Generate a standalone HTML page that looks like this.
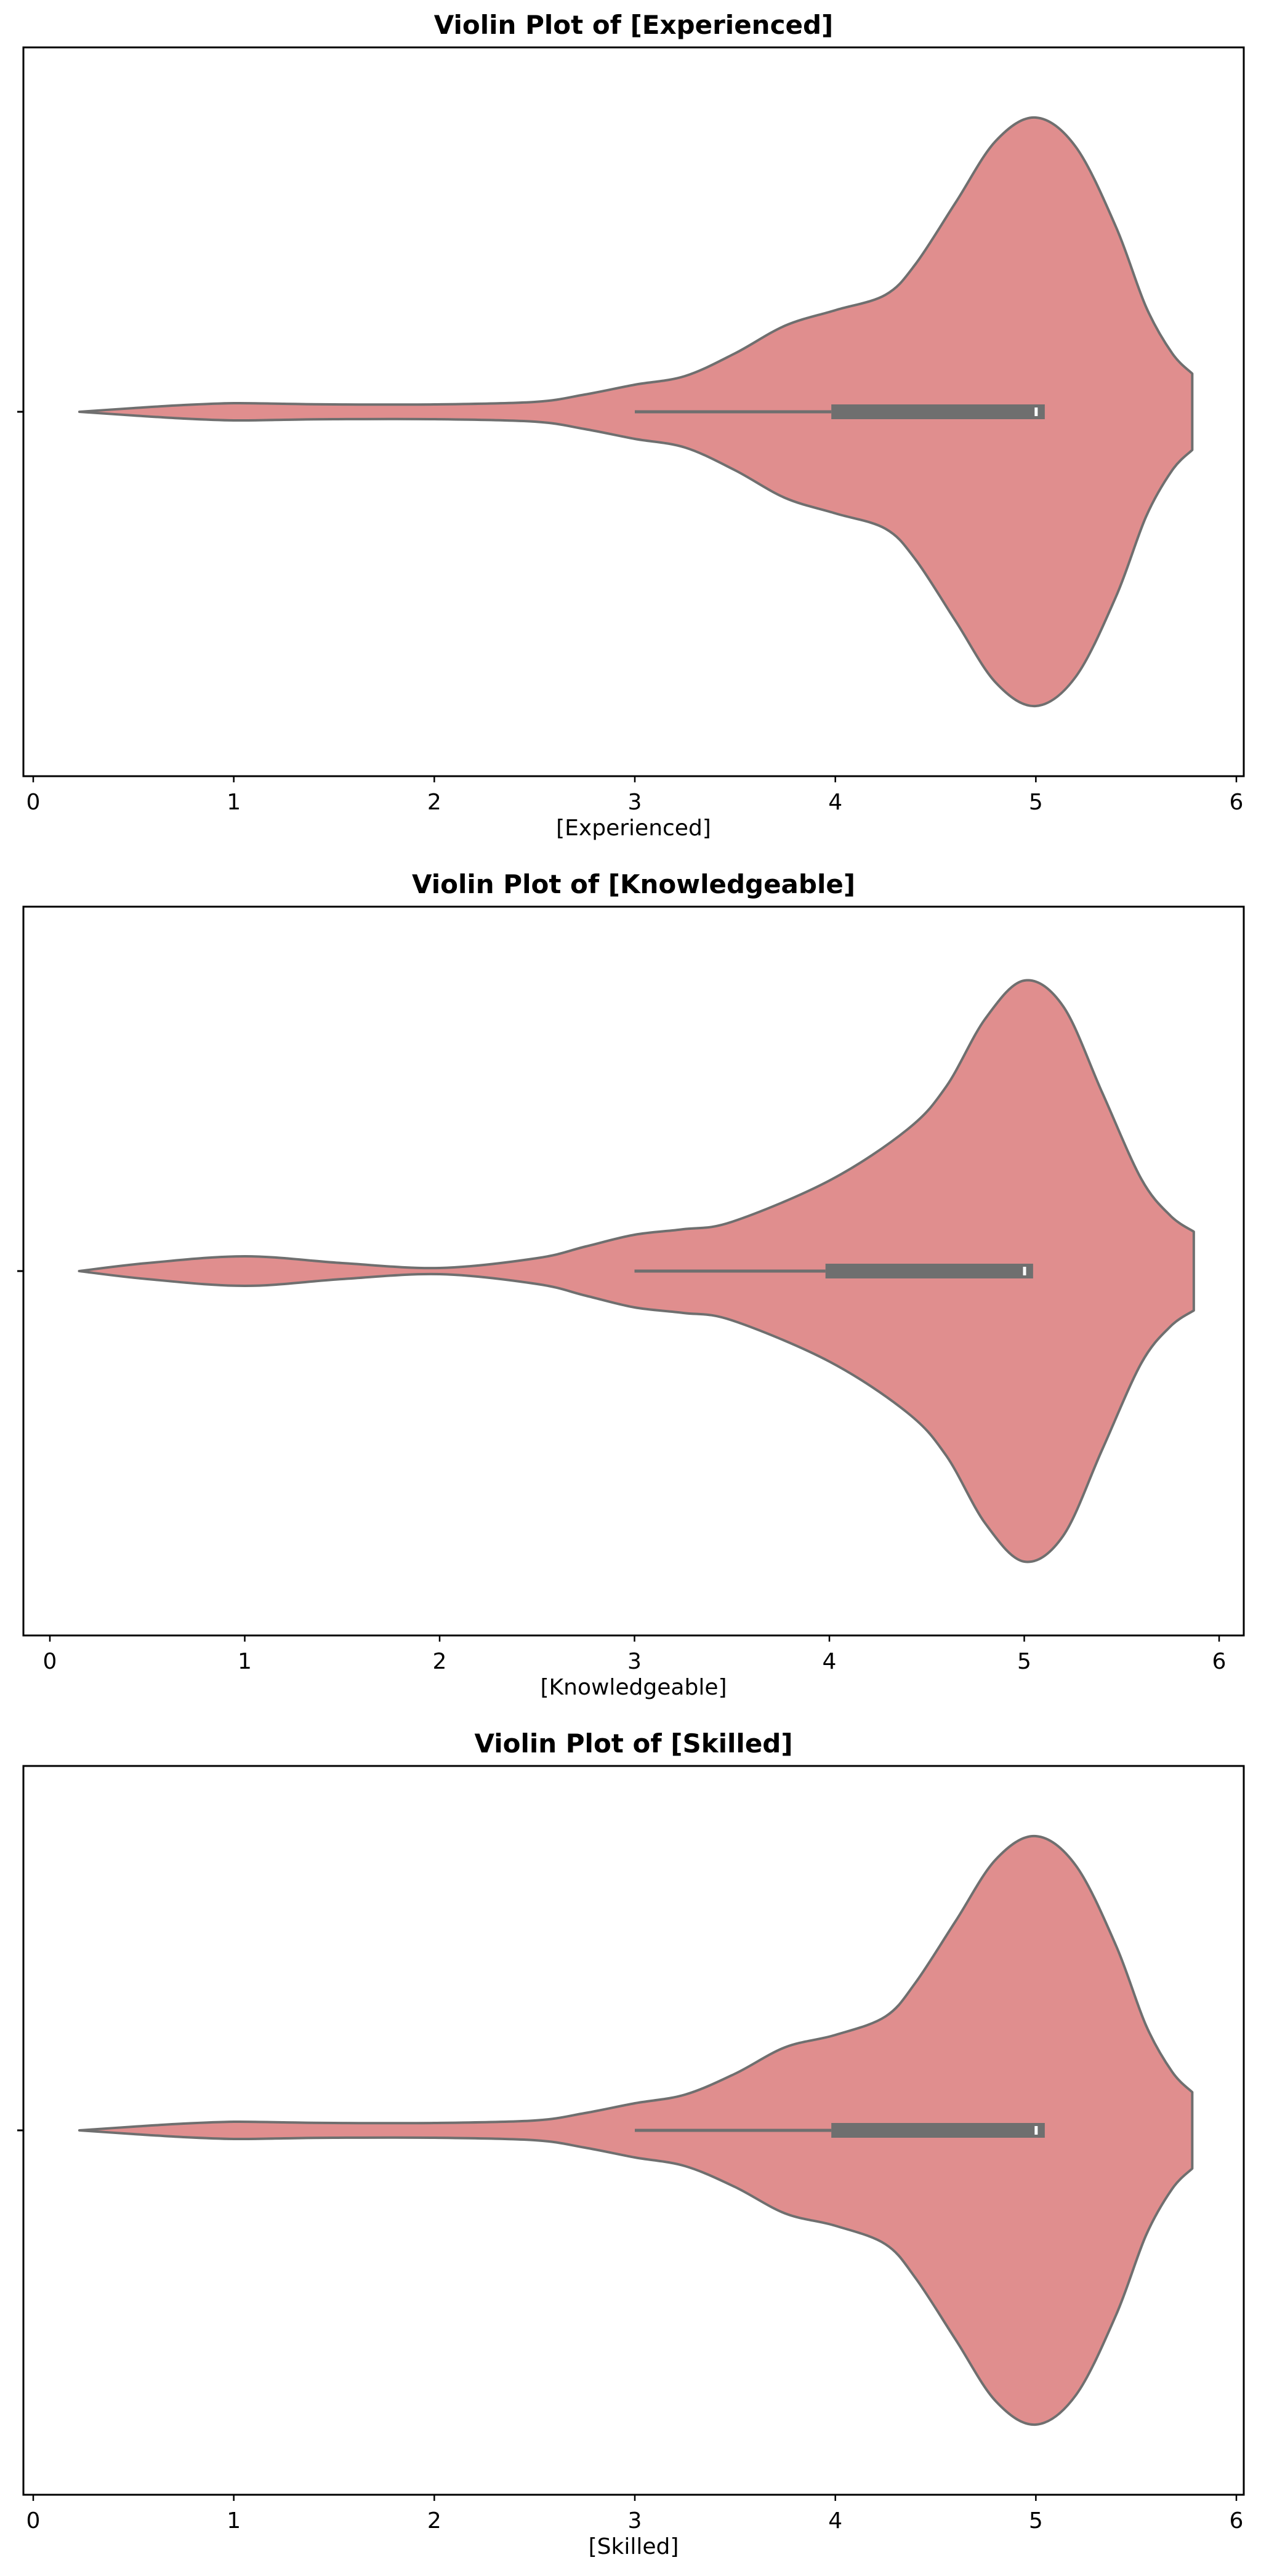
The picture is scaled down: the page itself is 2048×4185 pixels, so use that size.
<!DOCTYPE html>
<html><head><meta charset="utf-8"><style>
html,body{margin:0;padding:0;background:#fff}
svg{display:block}
text{font-family:"DejaVu Sans","Liberation Sans",sans-serif;fill:#000}
</style></head><body>
<svg id="chart" width="2048" height="4185" viewBox="0 0 2048 4185"></svg>
<script>
// Plot 1: Experienced
const p1Xs = [0.23,0.5,0.75,1.0,1.25,1.5,2.0,2.5,2.75,3.0,3.25,3.5,3.75,4.0,4.25,4.4,4.6,4.8,5.0,5.2,5.4,5.55,5.68,5.78];
const p1Dens = [0,6,11,14,13,12,12,16,28,44,58,95,140,165,190,240,340,440,478,430,300,170,95,62];
const p1Stats = [3,3.98,5,5.02,5]; // whiskerLo, q1, median, q3, whiskerHi
// Plot 2: Knowledgeable
const p2Xs = [0.15,0.5,1.0,1.5,2.0,2.5,2.75,3.0,3.25,3.5,4.0,4.4,4.6,4.8,5.0,5.2,5.4,5.6,5.75,5.87];
const p2Dens = [0,13,24,13,5,21,40,59,68,80,147,230,300,410,472,430,290,150,90,64];
const p2Stats = [3,3.98,5,5.02,5];
// Plot 3: Skilled
const p3Xs = [0.23,0.5,0.75,1.0,1.25,1.5,2.0,2.5,2.75,3.0,3.25,3.5,3.75,4.0,4.25,4.4,4.6,4.8,5.0,5.2,5.4,5.55,5.68,5.78];
const p3Dens = [0,6,11,14,13,12,12,16,28,44,58,92,135,155,185,240,340,440,478,430,300,170,95,62];
const p3Stats = [3,3.98,5,5.02,5];
const tickVals = [0,1,2,3,4,5,6];
const titles = ["Violin Plot of [Experienced]","Violin Plot of [Knowledgeable]","Violin Plot of [Skilled]"];
const xLabels = ["[Experienced]","[Knowledgeable]","[Skilled]"];

const NS="http://www.w3.org/2000/svg";
const svg=document.getElementById('chart');
function mk(tag,attrs,parent){const e=document.createElementNS(NS,tag);for(const k in attrs)e.setAttribute(k,attrs[k]);(parent||svg).appendChild(e);return e;}

const panels=[
 {xs:p1Xs,d:p1Dens,s:p1Stats,top:77,x0:54,x6:2008},
 {xs:p2Xs,d:p2Dens,s:p2Stats,top:1473,x0:81,x6:1980},
 {xs:p3Xs,d:p3Dens,s:p3Stats,top:2869,x0:54,x6:2008}
];
const L=38,R=2020,H=1184;

function smooth(pts){
 let d="M"+pts[0][0]+","+pts[0][1];
 for(let i=0;i<pts.length-1;i++){
  const p0=pts[Math.max(0,i-1)],p1=pts[i],p2=pts[i+1],p3=pts[Math.min(pts.length-1,i+2)];
  const c1=[p1[0]+(p2[0]-p0[0])/6,p1[1]+(p2[1]-p0[1])/6];
  const c2=[p2[0]-(p3[0]-p1[0])/6,p2[1]-(p3[1]-p1[1])/6];
  d+=" C"+c1[0]+","+c1[1]+" "+c2[0]+","+c2[1]+" "+p2[0]+","+p2[1];
 }
 return d;
}

panels.forEach((p,i)=>{
 const g=mk('g',{});
 
 
 const xs=v=>p.x0+(p.x6-p.x0)*v/6;
 const cy=p.top+H/2;
 const bottom=p.top+H;
 const t=mk('text',{x:(L+R)/2,y:p.top-22,'text-anchor':'middle','font-size':42,'font-weight':'bold'},g);
 t.textContent=titles[i];
 
 
 const up=p.xs.map((x,k)=>[xs(x),cy-p.d[k]]);
 const dn=p.xs.map((x,k)=>[xs(x),cy+p.d[k]]).reverse();
 let d=smooth(up);
 d+=" L"+dn[0][0]+","+dn[0][1]+smooth(dn).replace(/^M[^ C]+/,'')+" Z";
 const v=mk('path',{d:d,fill:'#e08e8e',stroke:'#6f6f6f','stroke-width':4,'stroke-linejoin':'round'},g);
 
 
 const wl=mk('line',{x1:xs(p.s[0]),x2:xs(p.s[1]),y1:cy,y2:cy,stroke:'#6f6f6f','stroke-width':5},g);
 
 
 const bx=mk('rect',{x:xs(p.s[1]),y:cy-12,width:xs(p.s[3])-xs(p.s[1])+8,height:24,fill:'#6f6f6f'},g);
 
 
 const md=mk('rect',{x:xs(p.s[2])-2,y:cy-7,width:5,height:14,fill:'#fff'},g);
 
 
 const fr=mk('rect',{x:L,y:p.top,width:R-L,height:H,fill:'none',stroke:'#000','stroke-width':3},g);
 
 
 mk('line',{x1:L-10,x2:L,y1:cy,y2:cy,stroke:'#000','stroke-width':3},g);
 tickVals.forEach(tv=>{
  mk('line',{x1:xs(tv),x2:xs(tv),y1:bottom,y2:bottom+10,stroke:'#000','stroke-width':2.5},g);
  const tl=mk('text',{x:xs(tv),y:bottom+54,'text-anchor':'middle','font-size':36},g);
  tl.textContent=tv;
  
  
 });
 const xl=mk('text',{x:(L+R)/2,y:bottom+96,'text-anchor':'middle','font-size':36},g);
 xl.textContent=xLabels[i];
 
 
});
</script>
</body></html>
